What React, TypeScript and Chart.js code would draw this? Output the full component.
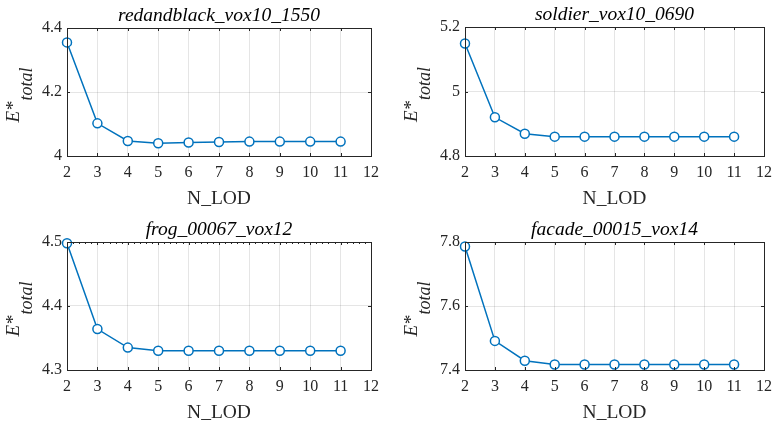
import React, { useEffect, useRef } from "react";
import { Chart, registerables } from "chart.js";

Chart.register(...registerables);

// ---------- data ----------
const nLod = [2, 3, 4, 5, 6, 7, 8, 9, 10, 11];
const xTicks = [2, 3, 4, 5, 6, 7, 8, 9, 10, 11, 12];

const titles = [
  "redandblack_vox10_1550",
  "soldier_vox10_0690",
  "frog_00067_vox12",
  "facade_00015_vox14",
];

const redandblack = [4.355, 4.102, 4.047, 4.04, 4.042, 4.044, 4.045, 4.045, 4.045, 4.045];
const soldier = [5.149, 4.92, 4.869, 4.86, 4.86, 4.86, 4.86, 4.86, 4.86, 4.86];
const frog = [4.498, 4.364, 4.335, 4.33, 4.33, 4.33, 4.33, 4.33, 4.33, 4.33];
const facade = [7.786, 7.491, 7.429, 7.417, 7.417, 7.417, 7.417, 7.417, 7.417, 7.417];

const yTicks1 = [4, 4.2, 4.4];
const yTicks2 = [4.8, 5, 5.2];
const yTicks3 = [4.3, 4.4, 4.5];
const yTicks4 = [7.4, 7.6, 7.8];

const xLabel = "N_LOD";
const yLabelMain = "E*";
const yLabelSub = "total";

// ---------- layout (page coords) ----------
type Rect = { l: number; t: number; r: number; b: number };
const panels: {
  canvas: Rect;
  plot: Rect;
  title: string;
  values: number[];
  yTicks: number[];
  minorTop: boolean;
}[] = [
  { canvas: { l: 0, t: 0, r: 389, b: 211 }, plot: { l: 67, t: 28, r: 371, b: 156 }, title: titles[0], values: redandblack, yTicks: yTicks1, minorTop: false },
  { canvas: { l: 389, t: 0, r: 779, b: 211 }, plot: { l: 465, t: 27, r: 767, b: 156 }, title: titles[1], values: soldier, yTicks: yTicks2, minorTop: false },
  { canvas: { l: 0, t: 211, r: 389, b: 423 }, plot: { l: 67, t: 242, r: 371, b: 370 }, title: titles[2], values: frog, yTicks: yTicks3, minorTop: true },
  { canvas: { l: 389, t: 211, r: 779, b: 423 }, plot: { l: 465, t: 242, r: 767, b: 370 }, title: titles[3], values: facade, yTicks: yTicks4, minorTop: false },
];

const FONT = "'Liberation Serif', 'DejaVu Serif', serif";
const AX = "#262626";
const BLUE = "#0072BD";
const fmt = (v: any) => String(Number(Number(v).toFixed(3)));

function Panel({ cfg }: { cfg: (typeof panels)[number] }) {
  const ref = useRef<HTMLCanvasElement | null>(null);
  useEffect(() => {
    const c = cfg.canvas;
    const p = cfg.plot;
    const deco = {
      id: "deco",
      afterDraw(chart: any) {
        const ctx = chart.ctx as CanvasRenderingContext2D;
        const a = chart.chartArea;
        const xs = chart.scales.x;
        const ys = chart.scales.y;
        ctx.save();
        // box
        ctx.strokeStyle = AX;
        ctx.lineWidth = 1;
        ctx.strokeRect(Math.round(a.left) + 0.5, Math.round(a.top) + 0.5, Math.round(a.right - a.left), Math.round(a.bottom - a.top));
        // inward ticks
        const tl = 3;
        ctx.beginPath();
        xTicks.forEach((v) => {
          const x = Math.round(xs.getPixelForValue(v)) + 0.5;
          ctx.moveTo(x, a.bottom);
          ctx.lineTo(x, a.bottom - tl);
          ctx.moveTo(x, a.top);
          ctx.lineTo(x, a.top + tl);
        });
        cfg.yTicks.forEach((v) => {
          const y = Math.round(ys.getPixelForValue(v)) + 0.5;
          ctx.moveTo(a.left, y);
          ctx.lineTo(a.left + tl, y);
          ctx.moveTo(a.right, y);
          ctx.lineTo(a.right - tl, y);
        });
        if (cfg.minorTop) {
          for (let i = 0; i <= 50; i++) {
            const v = 2 + i * 0.2;
            const x = Math.round(xs.getPixelForValue(v)) + 0.5;
            ctx.moveTo(x, a.top);
            ctx.lineTo(x, a.top + 2);
          }
        }
        ctx.stroke();
        // title
        ctx.fillStyle = "#000";
        ctx.font = `italic 19.5px ${FONT}`;
        ctx.textAlign = "center";
        ctx.textBaseline = "alphabetic";
        ctx.fillText(cfg.title, (a.left + a.right) / 2, a.top - 7);
        // x label
        ctx.fillStyle = AX;
        ctx.font = `19.5px ${FONT}`;
        ctx.fillText(xLabel, (a.left + a.right) / 2, a.bottom + 48);
        // y label
        ctx.font = `italic 19px ${FONT}`;
        const wMain = ctx.measureText(yLabelMain).width;
        ctx.font = `italic 18px ${FONT}`;
        const wSub = ctx.measureText(yLabelSub).width;
        const total = wMain + wSub + 1;
        ctx.translate(a.left - 48, (a.top + a.bottom) / 2 + 3);
        ctx.rotate(-Math.PI / 2);
        ctx.textAlign = "left";
        ctx.font = `italic 19px ${FONT}`;
        ctx.fillText(yLabelMain, -total / 2, 0);
        ctx.font = `italic 18px ${FONT}`;
        ctx.fillText(yLabelSub, -total / 2 + wMain + 1, 13);
        ctx.restore();
      },
    };
    const chart = new Chart(ref.current!, {
      type: "line",
      data: {
        datasets: [
          {
            data: nLod.map((x, i) => ({ x, y: cfg.values[i] })),
            borderColor: BLUE,
            borderWidth: 1.5,
            pointRadius: 4.5,
            pointBorderWidth: 1.5,
            pointBorderColor: BLUE,
            pointBackgroundColor: "#ffffff",
            tension: 0,
            clip: false as any,
          },
        ],
      },
      options: {
        animation: false,
        responsive: false,
        devicePixelRatio: 1,
        events: [],
        layout: { padding: { left: 0, top: p.t - c.t, right: c.r - p.r, bottom: 0 } },
        plugins: { legend: { display: false }, tooltip: { enabled: false }, title: { display: false } },
        scales: {
          x: {
            type: "linear",
            min: 2,
            max: 12,
            afterBuildTicks: (s: any) => {
              s.ticks = xTicks.map((v) => ({ value: v }));
            },
            afterFit: (s: any) => {
              s.height = c.b - p.b;
            },
            grid: { color: "rgba(38,38,38,0.12)", lineWidth: 1, drawTicks: false },
            border: { display: false },
            ticks: { color: AX, font: { family: FONT, size: 16 }, padding: 7, autoSkip: false, maxRotation: 0, callback: fmt },
          },
          y: {
            type: "linear",
            min: cfg.yTicks[0],
            max: cfg.yTicks[cfg.yTicks.length - 1],
            afterBuildTicks: (s: any) => {
              s.ticks = cfg.yTicks.map((v) => ({ value: v }));
            },
            afterFit: (s: any) => {
              s.width = p.l - c.l;
            },
            grid: { color: "rgba(38,38,38,0.12)", lineWidth: 1, drawTicks: false },
            border: { display: false },
            ticks: { color: AX, font: { family: FONT, size: 16 }, padding: 5, callback: fmt },
          },
        },
      },
      plugins: [deco],
    });
    return () => chart.destroy();
  }, [cfg]);
  const c = cfg.canvas;
  return (
    <canvas
      ref={ref}
      width={c.r - c.l}
      height={c.b - c.t}
      style={{ position: "absolute", left: c.l, top: c.t, width: c.r - c.l, height: c.b - c.t }}
    />
  );
}

export default function App() {
  return (
    <div style={{ position: "fixed", left: 0, top: 0, width: 779, height: 423, background: "#fff" }}>
      {panels.map((cfg, i) => (
        <Panel key={i} cfg={cfg} />
      ))}
    </div>
  );
}
